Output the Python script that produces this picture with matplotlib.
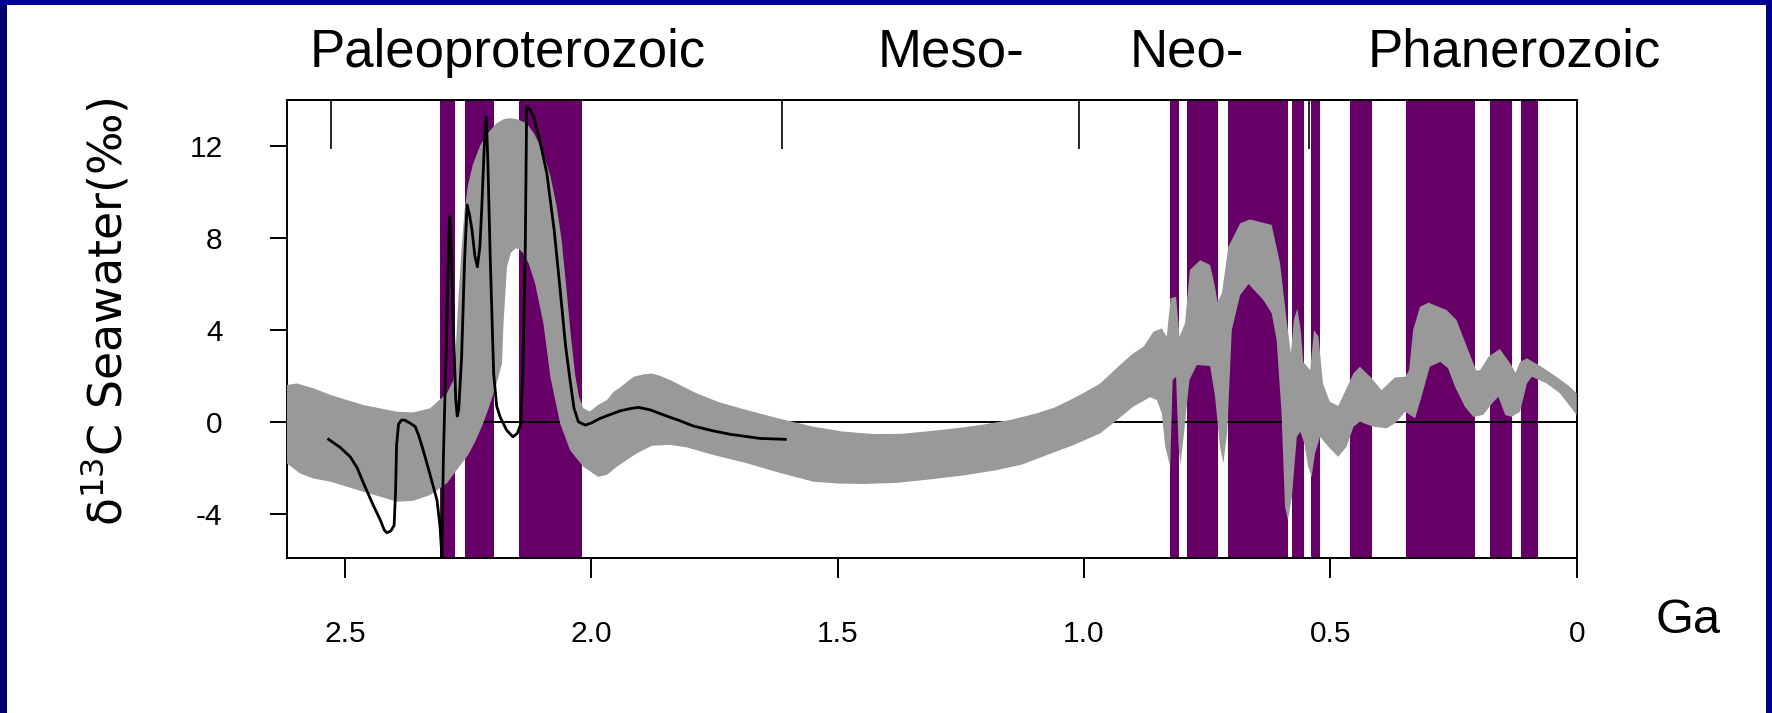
import numpy as np
import matplotlib
matplotlib.use('Agg')
import matplotlib.pyplot as plt
from matplotlib.patches import Rectangle

plt.rcParams['font.family'] = ['Liberation Sans', 'DejaVu Sans']
plt.rcParams['axes.unicode_minus'] = False

# era names and era boundaries (Ga)
era_names = ['Paleoproterozoic', 'Meso-', 'Neo-', 'Phanerozoic']
era_bounds = [2.529, 1.613, 1.011, 0.543]

# glaciation intervals (Ga)
glac_start = [2.307, 2.257, 2.146, 0.825, 0.790, 0.707, 0.577, 0.539, 0.460, 0.346, 0.176, 0.113]
glac_end = [2.276, 2.198, 2.019, 0.807, 0.728, 0.586, 0.554, 0.521, 0.416, 0.206, 0.132, 0.079]

# upper edge of the grey d13C envelope
up_age = [2.618, 2.597, 2.564, 2.529, 2.462, 2.394, 2.361, 2.327, 2.293, 2.280, 2.276, 2.270,
          2.263, 2.257, 2.250, 2.240, 2.225, 2.208, 2.192, 2.178, 2.165, 2.150, 2.131, 2.115,
          2.097, 2.083, 2.070, 2.060, 2.050, 2.042, 2.033, 2.025, 2.016, 2.003, 1.985, 1.968,
          1.955, 1.941, 1.914, 1.895, 1.877, 1.860, 1.840, 1.815, 1.786, 1.740, 1.684, 1.620,
          1.549, 1.490, 1.427, 1.370, 1.312, 1.260, 1.211, 1.150, 1.096, 1.060, 1.028, 0.997,
          0.967, 0.927, 0.900, 0.879, 0.859, 0.842, 0.832, 0.824, 0.813, 0.806, 0.795, 0.785,
          0.764, 0.744, 0.734, 0.729, 0.720, 0.707, 0.683, 0.663, 0.619, 0.602, 0.588, 0.580,
          0.574, 0.567, 0.560, 0.555, 0.541, 0.533, 0.524, 0.515, 0.501, 0.484, 0.467, 0.453,
          0.440, 0.419, 0.396, 0.369, 0.348, 0.340, 0.332, 0.318, 0.301, 0.264, 0.244, 0.223,
          0.204, 0.196, 0.179, 0.156, 0.135, 0.124, 0.115, 0.101, 0.074, 0.041, 0.014, 0.000]
up_val = [1.60, 1.67, 1.46, 1.17, 0.73, 0.44, 0.41, 0.59, 1.24, 1.80, 2.70, 5.20,
          7.60, 9.20, 10.30, 11.20, 12.03, 12.60, 12.98, 13.15, 13.20, 13.15, 12.98, 12.50,
          11.67, 10.70, 9.35, 7.90, 5.73, 3.90, 2.10, 1.10, 0.59, 0.45, 0.75, 0.95,
          1.30, 1.50, 1.96, 2.06, 2.10, 2.00, 1.82, 1.55, 1.24, 0.85, 0.51, 0.15,
          -0.21, -0.42, -0.53, -0.52, -0.40, -0.28, -0.14, 0.08, 0.37, 0.62, 0.95, 1.30,
          1.67, 2.47, 2.98, 3.27, 3.92, 4.06, 3.70, 5.37, 5.44, 3.70, 4.28, 6.60,
          7.03, 6.82, 5.87, 5.22, 5.59, 7.61, 8.63, 8.80, 8.56, 6.89, 4.28, 2.98,
          4.43, 4.93, 3.99, 2.61, 2.25, 3.99, 3.70, 1.67, 0.87, 0.69, 1.46, 2.11,
          2.40, 1.96, 1.38, 1.93, 1.96, 2.25, 3.99, 5.00, 5.18, 4.86, 4.43, 3.27,
          2.23, 2.25, 2.83, 3.17, 2.54, 2.13, 2.61, 2.76, 2.43, 1.96, 1.53, 1.24]

# lower edge of the grey envelope
lo_age = [2.618, 2.591, 2.564, 2.529, 2.462, 2.394, 2.361, 2.327, 2.293, 2.268, 2.250, 2.234,
          2.220, 2.207, 2.192, 2.181, 2.178, 2.171, 2.163, 2.154, 2.146, 2.138, 2.127, 2.114,
          2.097, 2.083, 2.063, 2.043, 2.016, 1.986, 1.968, 1.948, 1.910, 1.877, 1.840, 1.806,
          1.750, 1.684, 1.620, 1.549, 1.500, 1.448, 1.380, 1.312, 1.245, 1.177, 1.125, 1.075,
          1.020, 0.967, 0.933, 0.900, 0.866, 0.852, 0.842, 0.835, 0.825, 0.820, 0.813, 0.808,
          0.804, 0.797, 0.786, 0.771, 0.744, 0.734, 0.724, 0.717, 0.709, 0.700, 0.683, 0.666,
          0.636, 0.619, 0.609, 0.599, 0.592, 0.586, 0.578, 0.568, 0.561, 0.553, 0.545, 0.538,
          0.531, 0.521, 0.501, 0.484, 0.467, 0.453, 0.440, 0.413, 0.386, 0.369, 0.348, 0.328,
          0.315, 0.298, 0.277, 0.261, 0.247, 0.227, 0.210, 0.190, 0.169, 0.159, 0.145, 0.132,
          0.115, 0.101, 0.091, 0.061, 0.034, 0.000]
lo_val = [-1.80, -2.24, -2.46, -2.60, -3.04, -3.47, -3.43, -3.18, -2.67, -1.95, -1.45, -0.80,
          -0.10, 0.66, 1.67, 2.54, 4.28, 6.74, 7.35, 7.54, 7.50, 7.33, 6.89, 6.02,
          4.28, 1.96, -0.07, -1.23, -1.95, -2.39, -2.30, -1.95, -1.40, -1.04, -1.00, -1.11,
          -1.45, -1.80, -2.20, -2.60, -2.68, -2.70, -2.65, -2.50, -2.33, -2.10, -1.85, -1.44,
          -1.00, -0.50, 0.08, 0.66, 1.07, 0.95, 0.37, -1.08, -1.95, 1.82, 1.96, -1.08,
          -1.88, -0.50, 1.82, 2.47, 2.43, 1.10, -1.08, -1.80, -0.36, 3.99, 5.51, 5.99,
          5.30, 4.72, 3.56, 0.37, -3.69, -4.27, -3.26, -0.65, -0.43, -0.93, -1.95, -2.39,
          -1.37, -0.65, -1.15, -1.52, -1.08, -0.21, 0.00, -0.21, -0.28, -0.07, 0.44, 0.15,
          1.09, 2.40, 2.61, 2.33, 1.53, 0.66, 0.22, 0.30, 0.87, 1.09, 0.30, 0.22,
          0.44, 1.67, 1.96, 1.67, 1.24, 0.30]

# black Paleoproterozoic curve
line_age = [2.533, 2.510, 2.489, 2.475, 2.462, 2.445, 2.428, 2.420, 2.415, 2.407, 2.400, 2.397,
            2.395, 2.391, 2.385, 2.378, 2.368, 2.357, 2.350, 2.341, 2.327, 2.313, 2.307, 2.303,
            2.300, 2.293, 2.289, 2.287, 2.284, 2.280, 2.275, 2.272, 2.269, 2.263, 2.257, 2.252,
            2.247, 2.242, 2.236, 2.231, 2.226, 2.222, 2.217, 2.213, 2.210, 2.205, 2.198, 2.192,
            2.185, 2.172, 2.159, 2.150, 2.143, 2.139, 2.134, 2.131, 2.125, 2.117, 2.105, 2.090,
            2.075, 2.063, 2.052, 2.043, 2.035, 2.026, 2.012, 2.000, 1.982, 1.960, 1.941, 1.920,
            1.904, 1.880, 1.853, 1.820, 1.793, 1.755, 1.718, 1.657, 1.606]
line_val = [-0.76, -1.10, -1.52, -2.00, -2.67, -3.50, -4.27, -4.70, -4.82, -4.75, -4.50, -3.00,
            -1.00, -0.10, 0.08, 0.07, -0.05, -0.21, -0.60, -1.23, -2.30, -3.40, -4.50, -5.87,
            -1.52, 4.28, 8.00, 8.92, 7.50, 4.28, 1.00, 0.25, 0.50, 2.83, 7.00, 9.43,
            9.00, 8.34, 7.20, 6.74, 7.60, 9.35, 12.00, 13.27, 11.50, 7.18, 2.10, 0.70,
            0.22, -0.35, -0.65, -0.50, -0.10, 2.00, 7.18, 13.70, 13.60, 13.27, 12.30, 10.80,
            8.30, 5.73, 3.30, 1.82, 0.60, 0.00, -0.14, -0.05, 0.15, 0.33, 0.48, 0.58,
            0.63, 0.52, 0.30, 0.05, -0.18, -0.38, -0.54, -0.72, -0.76]

xticks = [2.5, 2.0, 1.5, 1.0, 0.5, 0]
xlabels = ['2.5', '2.0', '1.5', '1.0', '0.5', '0']
yticks = [-4, 0, 4, 8, 12]

W, H = 1772, 713
fig = plt.figure(figsize=(W / 100, H / 100), dpi=100)
fig.patch.set_facecolor('white')
ax = fig.add_axes([286.7 / W, 1 - 558.3 / H, 1290 / W, 458.3 / H])

for s, e in zip(glac_start, glac_end):
    ax.axvspan(s, e, color='#660066', lw=0, zorder=1)
ax.axhline(0, color='black', lw=1.4, zorder=2)
ax.fill(up_age + lo_age[::-1], up_val + lo_val[::-1], color='#999999', lw=0, zorder=3)
ax.plot(line_age, line_val, color='black', lw=2.0, zorder=4)

ax.set_xlim(2.618, 0)
ax.set_ylim(-5.93, 13.99)
ax.set_xticks(xticks)
ax.set_xticklabels(xlabels)
ax.set_yticks(yticks)
ax.tick_params(axis='x', length=14.4, width=1.4, pad=30, labelsize=21.5)
ax.tick_params(axis='y', length=12.2, width=1.4, pad=34, labelsize=21.5)
for sp in ax.spines.values():
    sp.set_linewidth(1.4)

top = ax.secondary_xaxis('top')
top.set_xticks(era_bounds)
top.tick_params(direction='in', length=35, width=1.2, labeltop=False)
top.spines['top'].set_linewidth(1.4)

era_x = [310, 878, 1130, 1368]
for name, x in zip(era_names, era_x):
    fig.text(x / W, 1 - 66.7 / H, name, fontsize=38, ha='left', va='baseline')

fig.text(1656 / W, 1 - 633 / H, 'Ga', fontsize=35, ha='left', va='baseline')
fig.text(106 / W, 1 - 311.7 / H, 'δ$^{13}$C Seawater(‰)', fontsize=33, rotation=90,
         ha='center', va='center', family=['DejaVu Sans'])

# slide frame
fig.patches.append(Rectangle((0, 0), 7 / W, 1, transform=fig.transFigure, color='#000070', lw=0))
fig.patches.append(Rectangle((0, 1 - 5 / H), 1, 5 / H, transform=fig.transFigure, color='#000099', lw=0))
fig.patches.append(Rectangle((1 - 6 / W, 0), 6 / W, 1, transform=fig.transFigure, color='#00008a', lw=0))

fig.savefig('out.png', dpi=100)
